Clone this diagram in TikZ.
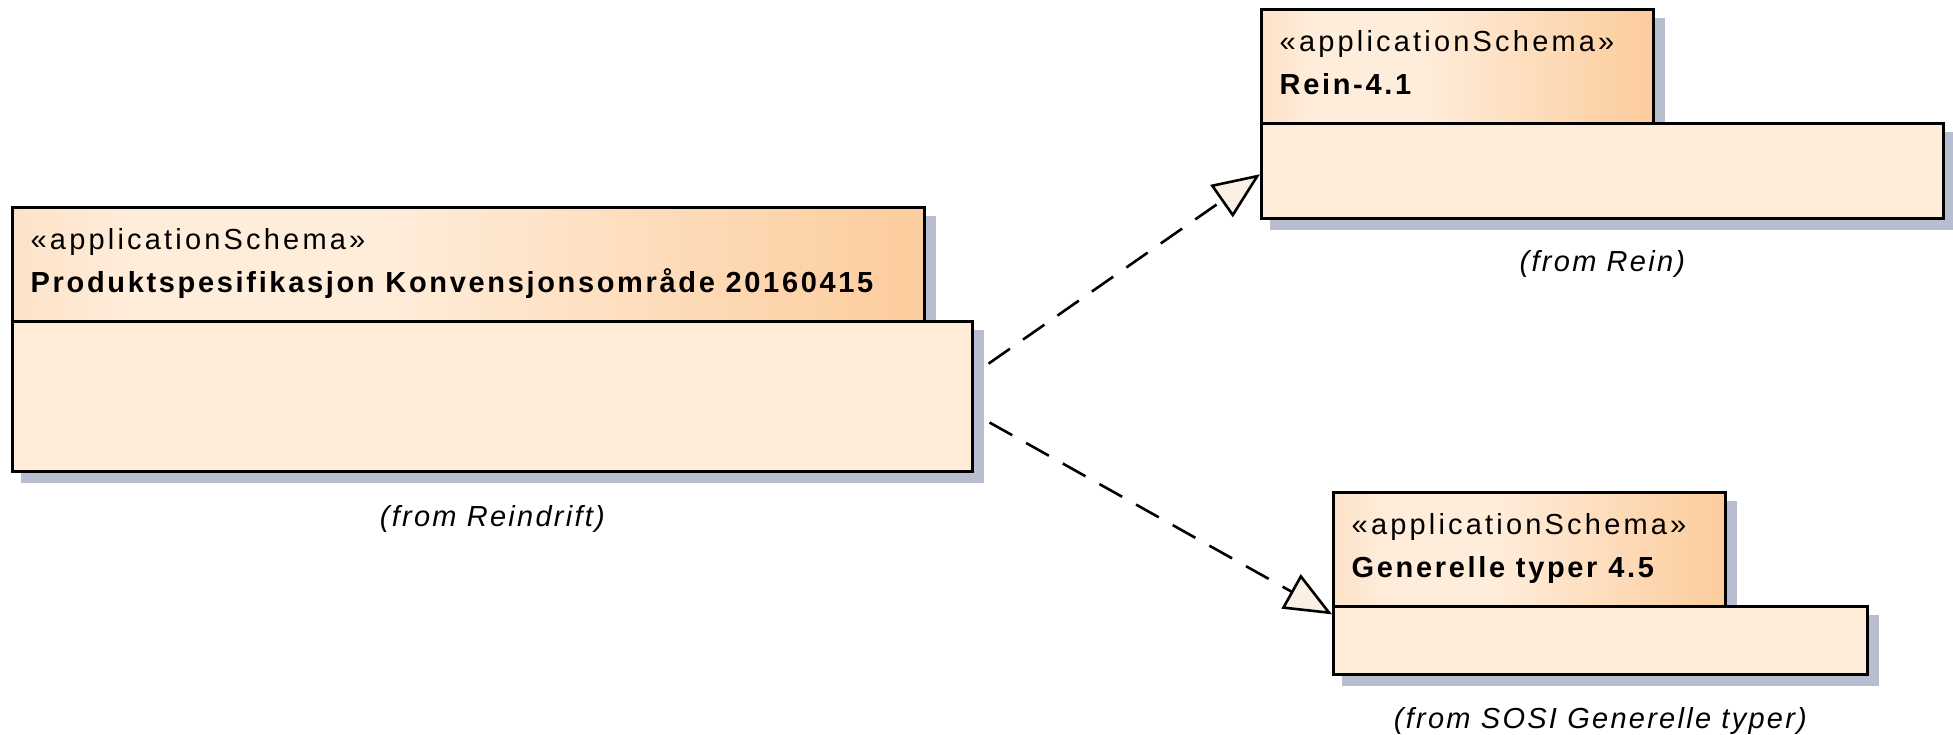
\documentclass[tikz,border=0pt]{standalone}
\usepackage{fontspec}
\setmainfont{Liberation Sans}
\newfontfamily\stfont[LetterSpace=11]{Liberation Sans}
\newfontfamily\nmfont[LetterSpace=9.2]{Liberation Sans}
\newfontfamily\frfont[LetterSpace=7.8]{Liberation Sans}
\usetikzlibrary{arrows.meta,calc,backgrounds}
\definecolor{bodyfill}{RGB}{255,236,216}
\definecolor{tabA}{RGB}{253,226,200}
\definecolor{tabB}{RGB}{255,237,219}
\definecolor{tabC}{RGB}{252,205,158}
\definecolor{shadowc}{RGB}{184,190,208}
\definecolor{arrowfill}{RGB}{250,241,228}
\pgfdeclarehorizontalshading{tabshade}{100bp}{color(0bp)=(tabA); color(25bp)=(tabA); color(32bp)=(tabB); color(45bp)=(tabB); color(74bp)=(tabC); color(100bp)=(tabC)}
\begin{document}
\begin{tikzpicture}[x=1pt,y=-1pt,
  pkgtab/.style={draw=black, line width=2.8pt, shade, shading=tabshade, minimum height=114pt, inner sep=0pt, anchor=north west},
  pkgbody/.style={draw=black, line width=2.8pt, fill=bodyfill, inner sep=0pt, anchor=north west},
  sttext/.style={font=\stfont\fontsize{29pt}{34pt}\selectfont, inner sep=0pt, anchor=base west},
  nmtext/.style={font=\nmfont\bfseries\fontsize{29pt}{34pt}\selectfont, inner sep=0pt, anchor=base west},
  frtext/.style={font=\frfont\itshape\fontsize{29pt}{34pt}\selectfont, inner sep=0pt, anchor=base},
  dep/.style={line width=2.6pt, dash pattern=on 26pt off 16pt, dash phase=24pt, -{Triangle[length=47pt,width=39pt,fill=arrowfill]}},
  shadowbox/.style={fill=shadowc}
]
\useasboundingbox (0,0) rectangle (1953,734);

% main package
\node[pkgtab, minimum width=912pt] (maintab) at (11,206) {};
\node[pkgbody, minimum width=960pt, minimum height=150pt] (mainbody) at (11,320) {};
\node[sttext] (mainst) at ($(maintab.north west)+(19.5,43)$) {«applicationSchema»};
\node[nmtext] (mainnm) at ($(maintab.north west)+(19.5,86)$) {Produktspesifikasjon Konvensjonsområde 20160415};
\node[frtext] (mainfr) at ($(mainbody.south)+(0,54)$) {(from Reindrift)};

% Rein package
\node[pkgtab, minimum width=392pt] (reintab) at (1260,8) {};
\node[pkgbody, minimum width=682pt, minimum height=95pt] (reinbody) at (1260,122) {};
\node[sttext] (reinst) at ($(reintab.north west)+(19.5,43)$) {«applicationSchema»};
\node[nmtext] (reinnm) at ($(reintab.north west)+(19.5,86)$) {Rein-4.1};
\node[frtext] (reinfr) at ($(reinbody.south)+(0,52)$) {(from Rein)};

% SOSI package
\node[pkgtab, minimum width=392pt] (sositab) at (1332,491) {};
\node[pkgbody, minimum width=534pt, minimum height=68pt] (sosibody) at (1332,605) {};
\node[sttext] (sosist) at ($(sositab.north west)+(19.5,43)$) {«applicationSchema»};
\node[nmtext] (sosinm) at ($(sositab.north west)+(19.5,86)$) {Generelle typer 4.5};
\node[frtext] (sosifr) at ($(sosibody.south)+(0,53)$) {(from SOSI Generelle typer)};

\begin{scope}[on background layer]
  \draw[dep] ($(mainbody.north east)!0.353!(mainbody.south east)$) -- ($(reinbody.north west)!0.534!(reinbody.south west)$);
  \draw[dep] ($(mainbody.north east)!0.613!(mainbody.south east)$) -- ($(sosibody.north west)!0.132!(sosibody.south west)$);
  \foreach \n in {maintab,mainbody,reintab,reinbody,sositab,sosibody}{
    \fill[shadowbox] ($(\n.north west)+(10,10)$) rectangle ($(\n.south east)+(10,10)$);
  }
\end{scope}
\end{tikzpicture}
\end{document}
